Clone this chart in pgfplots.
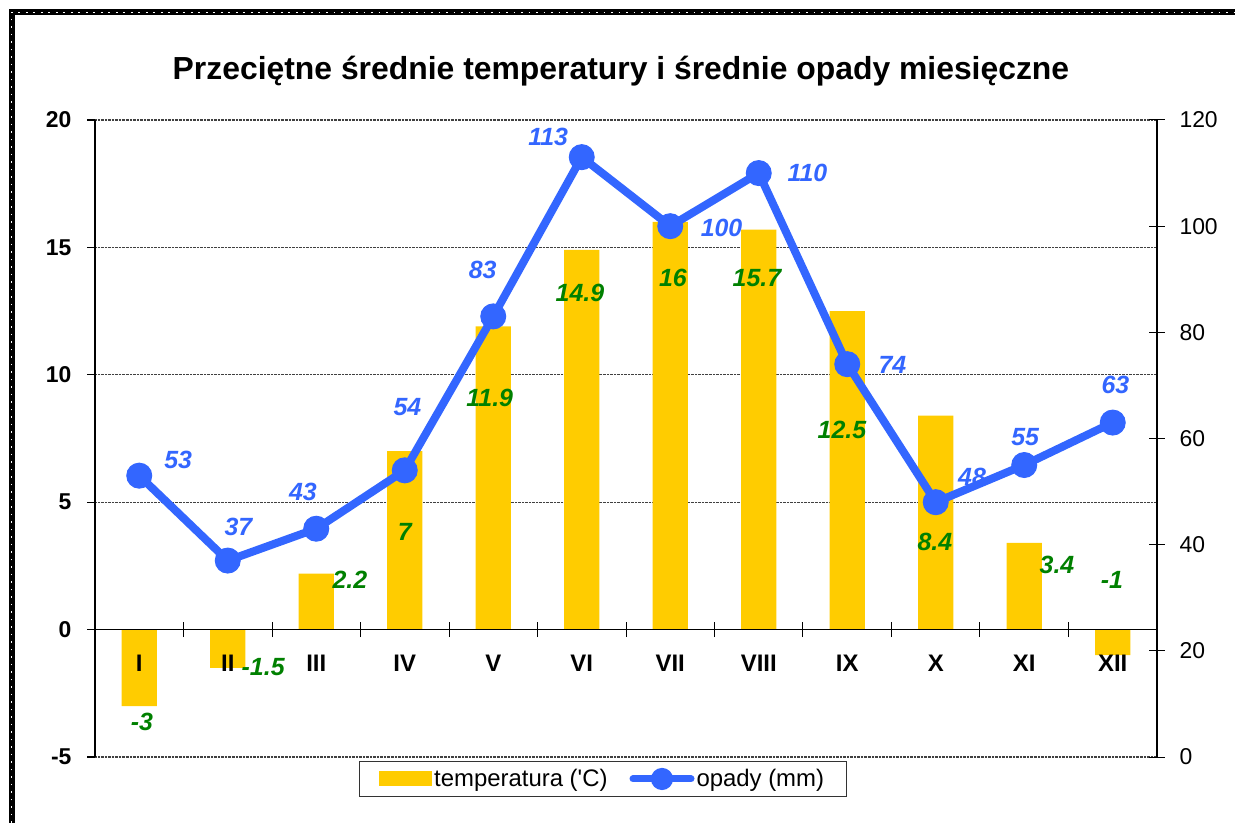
\documentclass[border=0pt]{standalone}
\usepackage{fontspec}
\setmainfont{Liberation Sans}
\usepackage{pgfplots}
\pgfplotsset{compat=1.18}
\definecolor{barY}{HTML}{FFCC00}
\definecolor{lineB}{HTML}{3366FF}
\definecolor{lblG}{HTML}{008000}
\tikzset{
  lbG/.style={font=\bfseries\itshape\fontsize{25}{27}\selectfont, text=lblG},
  lbB/.style={font=\bfseries\itshape\fontsize{25}{27}\selectfont, text=lineB},
}
\begin{document}
\begin{tikzpicture}
\useasboundingbox (0bp,0bp) rectangle (1235bp,823bp);
% dotted frame (cut off at right and bottom)
\draw[line width=6bp] (11.5bp,0bp) -- (11.5bp,810.5bp) -- (1235bp,810.5bp);
\draw[white, line width=1.6bp, dash pattern=on 1.6bp off 5.9bp]
  (11.5bp,0bp) -- (11.5bp,810.5bp) -- (1235bp,810.5bp);
\node[anchor=base, font=\bfseries\fontsize{32}{36}\selectfont] at (621bp,743bp)
  {Przeciętne średnie temperatury i średnie opady miesięczne};

% temperature bars, left axis
\begin{axis}[
  at={(95bp,66bp)}, anchor=south west,
  scale only axis, width=1062bp, height=637bp,
  clip=false,
  xmin=0.5, xmax=12.5, ymin=-5, ymax=20,
  /pgf/number format/assume math mode=true,
  separate axis lines,
  x axis line style={draw=none},
  y axis line style={line width=1.2bp, black},
  xtick={1,...,12}, xticklabels={},
  xtick pos=bottom, ytick pos=left,
  minor xtick={1.5,2.5,...,11.5},
  major x tick style={draw=none},
  minor x tick style={line width=1bp, black, yshift=127.4bp},
  minor tick length=15bp,
  ytick={-5,0,...,20},
  major y tick style={line width=1.2bp, black, xshift=-4bp},
  major tick length=8bp,
  tick align=center,
  ymajorgrids,
  y grid style={densely dotted, line width=1.2bp, black!75},
  yticklabel style={font=\bfseries\fontsize{23}{26}\selectfont, xshift=-16bp},
]
\addplot[ybar, bar width=0.4, fill=barY, draw=none] coordinates {
  (1,-3) (2,-1.5) (3,2.2) (4,7) (5,11.9) (6,14.9)
  (7,16) (8,15.7) (9,12.5) (10,8.4) (11,3.4) (12,-1)
};
\draw[line width=1.2bp, black] (axis cs:0.5,0) -- (axis cs:12.5,0);
\node[lbG] at (axis cs:1.03,-3.63) {-3};
\node[lbG] at (axis cs:2.40,-1.47) {-1.5};
\node[lbG] at (axis cs:3.38,1.95) {2.2};
\node[lbG] at (axis cs:4.00,3.84) {7};
\node[lbG] at (axis cs:4.96,9.11) {11.9};
\node[lbG] at (axis cs:5.98,13.2) {14.9};
\node[lbG] at (axis cs:7.03,13.8) {16};
\node[lbG] at (axis cs:7.98,13.8) {15.7};
\node[lbG] at (axis cs:8.94,7.83) {12.5};
\node[lbG] at (axis cs:9.99,3.45) {8.4};
\node[lbG] at (axis cs:11.37,2.54) {3.4};
\node[lbG] at (axis cs:11.99,1.95) {-1};
\end{axis}

% precipitation line, right axis (also carries the month labels, above the bars)
\begin{axis}[
  at={(95bp,66bp)}, anchor=south west,
  scale only axis, width=1062bp, height=637bp,
  clip=false,
  xmin=0.5, xmax=12.5, ymin=0, ymax=120,
  /pgf/number format/assume math mode=true,
  separate axis lines,
  x axis line style={draw=none},
  y axis line style={line width=1.2bp, black},
  xtick={1,...,12},
  xticklabels={I,II,III,IV,V,VI,VII,VIII,IX,X,XI,XII},
  xtick pos=bottom,
  major x tick style={draw=none},
  xticklabel style={font=\bfseries\fontsize{24}{26}\selectfont, yshift=113bp},
  ytick={0,20,...,120},
  ytick pos=right, yticklabel pos=right,
  major tick length=16bp, tick align=center,
  major y tick style={line width=1bp, black},
  yticklabel style={font=\fontsize{23}{26}\selectfont, xshift=11bp},
  legend columns=2,
  legend style={at={(0.478,-0.0345)}, anchor=center, draw=black!80,
    line width=1bp, font=\fontsize{24}{26}\selectfont,
    inner xsep=20bp, inner ysep=6bp,
    /tikz/every even column/.append style={column sep=20bp}},
  legend cell align=left,
]
\addlegendimage{legend image code/.code={\fill[barY] (0bp,-7bp) rectangle (52bp,7bp);}}
\addlegendentry{temperatura (\textquotesingle C)}
\node[lbB] at (axis cs:1.44,56.0) {53};
\node[lbB] at (axis cs:2.12,43.3) {37};
\node[lbB] at (axis cs:2.85,49.9) {43};
\node[lbB] at (axis cs:4.03,65.9) {54};
\node[lbB] at (axis cs:4.88,91.7) {83};
\node[lbB] at (axis cs:5.62,116.8) {113};
\node[lbB] at (axis cs:7.58,99.7) {100};
\node[lbB] at (axis cs:8.55,110.0) {110};
\node[lbB] at (axis cs:9.51,73.8) {74};
\node[lbB] at (axis cs:10.41,52.8) {48};
\node[lbB] at (axis cs:11.01,60.3) {55};
\node[lbB] at (axis cs:12.03,70.1) {63};
\addplot[color=lineB, line width=8bp, mark=*, mark size=12.5bp,
  mark options={solid, fill=lineB, line width=1bp},
  legend image code/.code={
    \draw[lineB, line width=7bp, line cap=round] (0bp,0bp) -- (58bp,0bp);
    \fill[lineB] (29bp,0bp) circle (7bp);}]
  coordinates {
  (1,53) (2,37) (3,43) (4,54) (5,83) (6,113)
  (7,100) (8,110) (9,74) (10,48) (11,55) (12,63)
};
\addlegendentry{opady (mm)}
\end{axis}
\end{tikzpicture}
\end{document}
